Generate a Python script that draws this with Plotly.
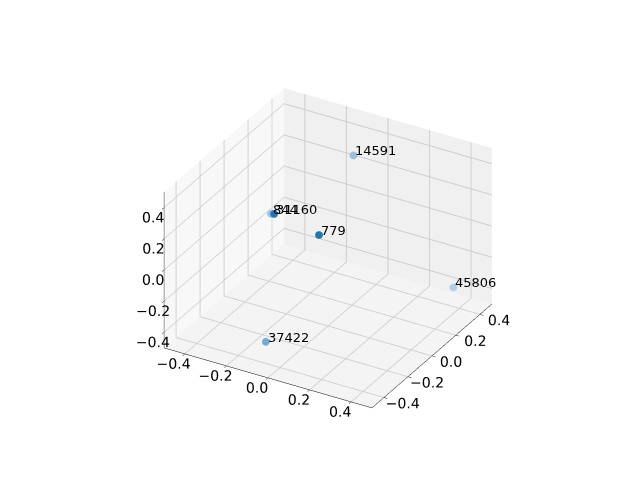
import plotly.graph_objects as go
import numpy as np

labels = ["844", "31160", "779", "14591", "45806", "37422"]
xs = [-0.284, -0.045, 0.140, -0.035, 0.421, -0.094]
ys = [0.016, -0.372, -0.318, 0.272, 0.315, -0.356]
zs = [0.10, 0.45, 0.35, 0.40, -0.30, -0.40]
tick_vals = [-0.4, -0.2, 0.0, 0.2, 0.4]
tick_text = ["\u22120.4", "\u22120.2", "0.0", "0.2", "0.4"]

# depth shading like matplotlib (closer points darker)
view = np.array([0.433, -0.75, 0.375])
depth = np.array(xs) * view[0] + np.array(ys) * view[1] + np.array(zs) * view[2]
norm = (depth - depth.min()) / (depth.max() - depth.min())
alphas = 0.35 + 0.65 * norm
base = np.array([31, 119, 180])
colors = []
for a in alphas:
    c = base * a + 255 * (1 - a)
    colors.append("rgb(%d,%d,%d)" % tuple(c))

fig = go.Figure()
fig.add_trace(go.Scatter3d(
    x=xs, y=ys, z=zs, mode="markers",
    marker=dict(size=4.5, color=colors, line=dict(width=0)),
))

annotations = [
    dict(x=x, y=y, z=z, text=t, showarrow=False,
         xanchor="left", yanchor="bottom", xshift=0, yshift=-5,
         font=dict(family="DejaVu Sans", size=13, color="black"))
    for x, y, z, t in zip(xs, ys, zs, labels)
]

axis_common = dict(
    range=[-0.5, 0.5], tickvals=tick_vals, ticktext=tick_text,
    showbackground=True, gridcolor="rgb(205,205,205)",
    showline=True, linecolor="black", linewidth=1,
    zeroline=False, title=dict(text=""), showspikes=False,
    tickfont=dict(family="DejaVu Sans", size=13, color="black"),
    ticks="outside", ticklen=4, tickcolor="black", tickangle=0,
)
r = 1.63
fig.update_layout(
    width=640, height=480,
    margin=dict(l=0, r=0, t=0, b=0),
    paper_bgcolor="white",
    showlegend=False,
    scene=dict(
        domain=dict(x=[0.0, 1.0], y=[0.0, 1.0]),
        xaxis=dict(backgroundcolor="rgb(248,248,248)", **axis_common),
        yaxis=dict(backgroundcolor="rgb(240,240,240)", **axis_common),
        zaxis=dict(backgroundcolor="rgb(244,244,244)", **axis_common),
        aspectmode="manual",
        aspectratio=dict(x=1, y=1, z=0.75),
        annotations=annotations,
        camera=dict(eye=dict(x=0.433 * r, y=-0.75 * r, z=0.5 * r),
                    center=dict(x=0, y=0, z=0),
                    projection=dict(type="orthographic")),
    ),
)
fig.write_html("out.html")
